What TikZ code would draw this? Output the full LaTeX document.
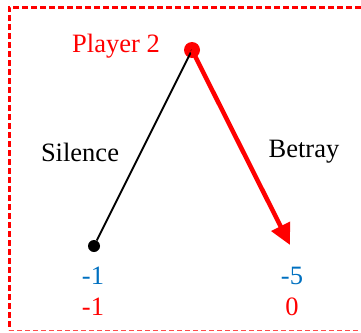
\documentclass[tikz,border=0pt]{standalone}
\usepackage{fontspec}
\setmainfont{Liberation Serif}
\usetikzlibrary{arrows.meta}
\definecolor{payblue}{RGB}{0,112,192}

\begin{document}
\begin{tikzpicture}[x=1pt, y=-1pt, >=Stealth, font=\fontsize{26.5}{30}\selectfont]
    \useasboundingbox (0,0) rectangle (361,332);
    % frame
    \draw[red, line width=3pt, dash pattern=on 6pt off 3pt] (361,7) -- (9,7) -- (9,330);
    \draw[red!70, line width=0.8pt, dash pattern=on 5pt off 3pt] (9,330) -- (361,330);
    % tree
    \node[circle, fill=red, inner sep=0pt, minimum size=16pt](p2) at (192,50) {};
    \node[circle, fill=black, inner sep=0pt, minimum size=12pt](sil) at (94,246) {};
    \coordinate (bet) at (290,245);
    \draw[line width=1.8pt](p2.center) -- (sil);
    \draw[red, line width=4.5pt, -{Triangle[length=21pt, width=20pt]}](p2.center) -- (bet);
    \node[red](lp2) at (116,46) {Player 2};
    \node(lsil) at (80,152) {Silence};
    \node(lbet) at (304,152) {Betray};
    % payoffs
    \node[payblue](u1) at (93,276) {-1};
    \node[red](v1) at (93,307) {-1};
    \node[payblue](u2) at (292,276) {-5};
    \node[red](v2) at (292,307) {0};
\end{tikzpicture}
\end{document}
